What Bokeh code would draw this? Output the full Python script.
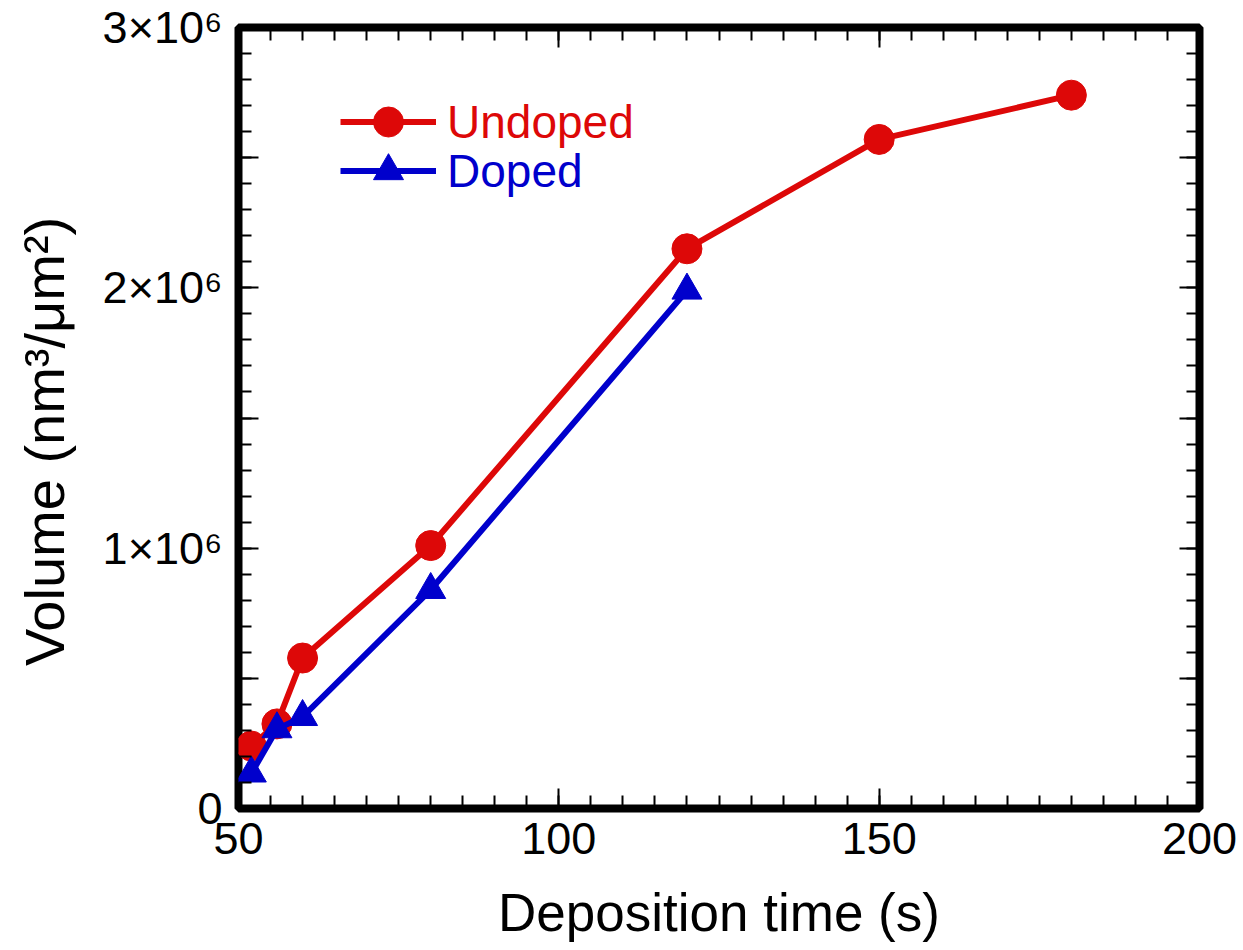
from bokeh.plotting import figure
from bokeh.models import (LinearAxis, FixedTicker, Legend, LegendItem, Range1d,
                          CustomJSTickFormatter)
from bokeh.embed import file_html
from bokeh.resources import INLINE

# ---- data ----
time_undoped = [52, 56, 60, 80, 120, 150, 180]
vol_undoped = [0.24e6, 0.325e6, 0.578e6, 1.01e6, 2.15e6, 2.57e6, 2.74e6]
time_doped = [52, 56, 60, 80, 120]
vol_doped = [0.135e6, 0.305e6, 0.352e6, 0.84e6, 1.99e6]

x_major = [50, 100, 150, 200]
x_minor = list(range(50, 201, 5))
y_major = [0, 5e5, 1e6, 1.5e6, 2e6, 2.5e6, 3e6]
y_minor = [i * 1e5 for i in range(31)]
y_labels = {0: "0", 500000: "", 1000000: "1×10⁶", 1500000: "",
            2000000: "2×10⁶", 2500000: "", 3000000: "3×10⁶"}

RED = "#DD0808"
BLUE = "#0000CC"
FONT = "Liberation Sans"

p = figure(width=1243, height=950, output_backend="svg", toolbar_location=None,
           x_range=Range1d(50, 200), y_range=Range1d(0, 3e6),
           min_border_left=238, min_border_right=44, min_border_top=27,
           min_border_bottom=142)
p.background_fill_color = "white"
p.border_fill_color = "white"
p.grid.visible = False
p.outline_line_color = "black"
p.outline_line_width = 8

def style_axis(ax, ticks, minor, show_labels):
    ax.ticker = FixedTicker(ticks=ticks, minor_ticks=minor)
    ax.axis_line_color = None
    ax.major_tick_in = 20
    ax.major_tick_out = 0
    ax.minor_tick_in = 13
    ax.minor_tick_out = 0
    ax.major_tick_line_width = 2
    ax.minor_tick_line_width = 2
    ax.major_tick_line_color = "black"
    ax.minor_tick_line_color = "black"
    ax.major_label_text_font = FONT
    ax.major_label_text_color = "black"
    if show_labels:
        ax.major_label_text_font_size = "45px"
    else:
        ax.formatter = CustomJSTickFormatter(code="return ''")
        ax.major_label_text_font_size = "1px"
        ax.major_label_standoff = 0

xa = p.xaxis[0]
style_axis(xa, x_major, x_minor, True)
xa.major_label_standoff = 14
xa.axis_label = "Deposition time (s)"
xa.axis_label_text_font = FONT
xa.axis_label_text_font_size = "53px"
xa.axis_label_text_font_style = "normal"
xa.axis_label_text_color = "black"
xa.axis_label_standoff = 26

ya = p.yaxis[0]
style_axis(ya, y_major, y_minor, True)
ya.major_label_overrides = y_labels
ya.major_label_standoff = 16
ya.axis_label = "Volume (nm³/μm²)\u00a0\u00a0\u00a0"
ya.axis_label_text_font = FONT
ya.axis_label_text_font_size = "56px"
ya.axis_label_text_font_style = "normal"
ya.axis_label_text_color = "black"
ya.axis_label_standoff = 24

ra = LinearAxis()
style_axis(ra, y_major, y_minor, False)
p.add_layout(ra, "right")
ta = LinearAxis()
style_axis(ta, x_major, x_minor, False)
p.add_layout(ta, "above")

l1 = p.line(time_undoped, vol_undoped, line_color=RED, line_width=6)
s1 = p.scatter(time_undoped, vol_undoped, marker="circle", size=30,
               fill_color=RED, line_color=RED)
l2 = p.line(time_doped, vol_doped, line_color=BLUE, line_width=6)
s2 = p.scatter(time_doped, vol_doped, marker="triangle", size=30,
               fill_color=BLUE, line_color=BLUE)

def make_legend(label, renderers, color, loc):
    lg = Legend(items=[LegendItem(label=label, renderers=renderers)],
                location=loc, orientation="vertical")
    lg.glyph_width = 96
    lg.glyph_height = 75
    lg.label_height = 44
    lg.label_standoff = 11
    lg.padding = 0
    lg.margin = 0
    lg.spacing = 0
    lg.border_line_alpha = 0
    lg.background_fill_alpha = 0
    lg.label_text_font = FONT
    lg.label_text_font_size = "46px"
    lg.label_text_color = color
    return lg

p.add_layout(make_legend("Undoped", [l1, s1], RED, (102, 649)))
p.add_layout(make_legend("Doped", [l2, s2], BLUE, (102, 600)))

open("out.html", "w").write(file_html(p, INLINE))
